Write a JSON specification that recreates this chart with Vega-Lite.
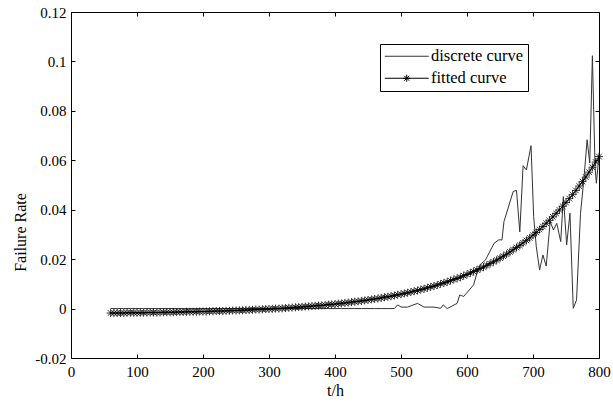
{
  "$schema": "https://vega.github.io/schema/vega-lite/v6.json",
  "width": 528,
  "height": 346,
  "autosize": {"type": "none"},
  "padding": {"left": 71, "top": 12, "right": 14, "bottom": 44},
  "background": "white",
  "config": {
    "view": {"stroke": "black", "strokeWidth": 1},
    "font": "Liberation Serif",
    "axis": {
      "domain": false,
      "grid": false,
      "tickColor": "black",
      "tickSize": -4,
      "tickWidth": 1,
      "labelColor": "black",
      "labelFont": "Liberation Serif",
      "labelFontSize": 15,
      "titleFont": "Liberation Serif",
      "titleFontSize": 16,
      "titleFontWeight": "normal",
      "titleColor": "black",
      "labelFlush": false,
      "labelOverlap": false
    }
  },
  "data": {
    "values": [
      {"t":60,"v":0,"series":"discrete curve"},{"t":70,"v":0,"series":"discrete curve"},{"t":80,"v":0,"series":"discrete curve"},{"t":90,"v":0,"series":"discrete curve"},{"t":100,"v":0,"series":"discrete curve"},{"t":110,"v":0,"series":"discrete curve"},{"t":120,"v":0,"series":"discrete curve"},{"t":130,"v":0,"series":"discrete curve"},{"t":140,"v":0,"series":"discrete curve"},{"t":150,"v":0,"series":"discrete curve"},{"t":160,"v":0,"series":"discrete curve"},{"t":170,"v":0,"series":"discrete curve"},{"t":180,"v":0,"series":"discrete curve"},{"t":190,"v":0,"series":"discrete curve"},{"t":200,"v":0,"series":"discrete curve"},{"t":210,"v":0,"series":"discrete curve"},{"t":220,"v":0,"series":"discrete curve"},{"t":230,"v":0,"series":"discrete curve"},{"t":240,"v":0,"series":"discrete curve"},{"t":250,"v":0,"series":"discrete curve"},{"t":260,"v":0,"series":"discrete curve"},{"t":270,"v":0,"series":"discrete curve"},{"t":280,"v":0,"series":"discrete curve"},{"t":290,"v":0,"series":"discrete curve"},{"t":300,"v":0,"series":"discrete curve"},{"t":310,"v":0,"series":"discrete curve"},{"t":320,"v":0,"series":"discrete curve"},{"t":330,"v":0,"series":"discrete curve"},{"t":340,"v":0,"series":"discrete curve"},{"t":350,"v":0,"series":"discrete curve"},{"t":360,"v":0,"series":"discrete curve"},{"t":370,"v":0,"series":"discrete curve"},{"t":380,"v":0,"series":"discrete curve"},{"t":390,"v":0,"series":"discrete curve"},{"t":400,"v":0,"series":"discrete curve"},{"t":410,"v":0,"series":"discrete curve"},{"t":420,"v":0,"series":"discrete curve"},{"t":430,"v":0,"series":"discrete curve"},{"t":440,"v":0,"series":"discrete curve"},{"t":450,"v":0,"series":"discrete curve"},{"t":460,"v":0,"series":"discrete curve"},{"t":470,"v":0,"series":"discrete curve"},{"t":480,"v":0,"series":"discrete curve"},{"t":490,"v":0,"series":"discrete curve"},
      {"t":495,"v":0.0015,"series":"discrete curve"},{"t":500,"v":0.0006,"series":"discrete curve"},{"t":510,"v":0.0006,"series":"discrete curve"},{"t":525,"v":0.0021,"series":"discrete curve"},{"t":535,"v":0.0006,"series":"discrete curve"},{"t":550,"v":0.0006,"series":"discrete curve"},{"t":560,"v":0.0001,"series":"discrete curve"},{"t":564,"v":0.0015,"series":"discrete curve"},{"t":570,"v":0,"series":"discrete curve"},{"t":585,"v":0.0021,"series":"discrete curve"},{"t":589,"v":0.0055,"series":"discrete curve"},{"t":595,"v":0.0049,"series":"discrete curve"},{"t":610,"v":0.0096,"series":"discrete curve"},{"t":615,"v":0.0143,"series":"discrete curve"},{"t":620,"v":0.0177,"series":"discrete curve"},{"t":628,"v":0.0197,"series":"discrete curve"},{"t":641,"v":0.0264,"series":"discrete curve"},{"t":648,"v":0.0278,"series":"discrete curve"},{"t":653,"v":0.0278,"series":"discrete curve"},{"t":656,"v":0.0352,"series":"discrete curve"},{"t":670,"v":0.0474,"series":"discrete curve"},{"t":675,"v":0.0478,"series":"discrete curve"},{"t":680,"v":0.031,"series":"discrete curve"},{"t":685,"v":0.0578,"series":"discrete curve"},{"t":690,"v":0.0561,"series":"discrete curve"},{"t":697,"v":0.0659,"series":"discrete curve"},{"t":701,"v":0.0372,"series":"discrete curve"},{"t":705,"v":0.025,"series":"discrete curve"},{"t":710,"v":0.0156,"series":"discrete curve"},{"t":715,"v":0.0217,"series":"discrete curve"},{"t":720,"v":0.0172,"series":"discrete curve"},{"t":726,"v":0.0352,"series":"discrete curve"},{"t":731,"v":0.0318,"series":"discrete curve"},{"t":736,"v":0.0345,"series":"discrete curve"},{"t":742,"v":0.0271,"series":"discrete curve"},{"t":746,"v":0.0453,"series":"discrete curve"},{"t":751,"v":0.0258,"series":"discrete curve"},{"t":756,"v":0.0386,"series":"discrete curve"},{"t":761,"v":0.0001,"series":"discrete curve"},{"t":766,"v":0.0035,"series":"discrete curve"},{"t":772,"v":0.0386,"series":"discrete curve"},{"t":777,"v":0.052,"series":"discrete curve"},{"t":782,"v":0.0683,"series":"discrete curve"},{"t":786,"v":0.0589,"series":"discrete curve"},{"t":790,"v":0.1023,"series":"discrete curve"},{"t":794,"v":0.0575,"series":"discrete curve"},{"t":796,"v":0.0507,"series":"discrete curve"},{"t":800,"v":0.0622,"series":"discrete curve"},
      {"t":60,"v":-0.0018,"series":"fitted curve"},{"t":65,"v":-0.0018,"series":"fitted curve"},{"t":70,"v":-0.0018,"series":"fitted curve"},{"t":75,"v":-0.0018,"series":"fitted curve"},{"t":80,"v":-0.0018,"series":"fitted curve"},{"t":85,"v":-0.0017,"series":"fitted curve"},{"t":90,"v":-0.0017,"series":"fitted curve"},{"t":95,"v":-0.0017,"series":"fitted curve"},{"t":100,"v":-0.0017,"series":"fitted curve"},{"t":105,"v":-0.0017,"series":"fitted curve"},{"t":110,"v":-0.0017,"series":"fitted curve"},{"t":115,"v":-0.0016,"series":"fitted curve"},{"t":120,"v":-0.0016,"series":"fitted curve"},{"t":125,"v":-0.0016,"series":"fitted curve"},{"t":130,"v":-0.0016,"series":"fitted curve"},{"t":135,"v":-0.0016,"series":"fitted curve"},{"t":140,"v":-0.0015,"series":"fitted curve"},{"t":145,"v":-0.0015,"series":"fitted curve"},{"t":150,"v":-0.0015,"series":"fitted curve"},{"t":155,"v":-0.0015,"series":"fitted curve"},{"t":160,"v":-0.0014,"series":"fitted curve"},{"t":165,"v":-0.0014,"series":"fitted curve"},{"t":170,"v":-0.0014,"series":"fitted curve"},{"t":175,"v":-0.0013,"series":"fitted curve"},{"t":180,"v":-0.0013,"series":"fitted curve"},{"t":185,"v":-0.0013,"series":"fitted curve"},{"t":190,"v":-0.0013,"series":"fitted curve"},{"t":195,"v":-0.0012,"series":"fitted curve"},{"t":200,"v":-0.0012,"series":"fitted curve"},{"t":205,"v":-0.0012,"series":"fitted curve"},{"t":210,"v":-0.0011,"series":"fitted curve"},{"t":215,"v":-0.0011,"series":"fitted curve"},{"t":220,"v":-0.001,"series":"fitted curve"},{"t":225,"v":-0.001,"series":"fitted curve"},{"t":230,"v":-0.001,"series":"fitted curve"},{"t":235,"v":-0.0009,"series":"fitted curve"},{"t":240,"v":-0.0009,"series":"fitted curve"},{"t":245,"v":-0.0008,"series":"fitted curve"},{"t":250,"v":-0.0008,"series":"fitted curve"},{"t":255,"v":-0.0007,"series":"fitted curve"},{"t":260,"v":-0.0007,"series":"fitted curve"},{"t":265,"v":-0.0006,"series":"fitted curve"},{"t":270,"v":-0.0006,"series":"fitted curve"},{"t":275,"v":-0.0005,"series":"fitted curve"},{"t":280,"v":-0.0004,"series":"fitted curve"},{"t":285,"v":-0.0004,"series":"fitted curve"},{"t":290,"v":-0.0003,"series":"fitted curve"},{"t":295,"v":-0.0002,"series":"fitted curve"},{"t":300,"v":-0.0002,"series":"fitted curve"},{"t":305,"v":-0.0001,"series":"fitted curve"},{"t":310,"v":0,"series":"fitted curve"},{"t":315,"v":0,"series":"fitted curve"},{"t":320,"v":0.0001,"series":"fitted curve"},{"t":325,"v":0.0002,"series":"fitted curve"},{"t":330,"v":0.0003,"series":"fitted curve"},{"t":335,"v":0.0004,"series":"fitted curve"},{"t":340,"v":0.0005,"series":"fitted curve"},{"t":345,"v":0.0006,"series":"fitted curve"},{"t":350,"v":0.0007,"series":"fitted curve"},{"t":355,"v":0.0008,"series":"fitted curve"},{"t":360,"v":0.0009,"series":"fitted curve"},{"t":365,"v":0.001,"series":"fitted curve"},{"t":370,"v":0.0011,"series":"fitted curve"},{"t":375,"v":0.0012,"series":"fitted curve"},{"t":380,"v":0.0013,"series":"fitted curve"},{"t":385,"v":0.0014,"series":"fitted curve"},{"t":390,"v":0.0016,"series":"fitted curve"},{"t":395,"v":0.0017,"series":"fitted curve"},{"t":400,"v":0.0018,"series":"fitted curve"},{"t":405,"v":0.002,"series":"fitted curve"},{"t":410,"v":0.0021,"series":"fitted curve"},{"t":415,"v":0.0023,"series":"fitted curve"},{"t":420,"v":0.0024,"series":"fitted curve"},{"t":425,"v":0.0026,"series":"fitted curve"},{"t":430,"v":0.0028,"series":"fitted curve"},{"t":435,"v":0.0029,"series":"fitted curve"},{"t":440,"v":0.0031,"series":"fitted curve"},{"t":445,"v":0.0033,"series":"fitted curve"},{"t":450,"v":0.0035,"series":"fitted curve"},{"t":455,"v":0.0037,"series":"fitted curve"},{"t":460,"v":0.0039,"series":"fitted curve"},{"t":465,"v":0.0041,"series":"fitted curve"},{"t":470,"v":0.0043,"series":"fitted curve"},{"t":475,"v":0.0046,"series":"fitted curve"},{"t":480,"v":0.0048,"series":"fitted curve"},{"t":485,"v":0.005,"series":"fitted curve"},{"t":490,"v":0.0053,"series":"fitted curve"},{"t":495,"v":0.0056,"series":"fitted curve"},{"t":500,"v":0.0058,"series":"fitted curve"},{"t":505,"v":0.0061,"series":"fitted curve"},{"t":510,"v":0.0064,"series":"fitted curve"},{"t":515,"v":0.0067,"series":"fitted curve"},{"t":520,"v":0.007,"series":"fitted curve"},{"t":525,"v":0.0073,"series":"fitted curve"},{"t":530,"v":0.0077,"series":"fitted curve"},{"t":535,"v":0.008,"series":"fitted curve"},{"t":540,"v":0.0084,"series":"fitted curve"},{"t":545,"v":0.0088,"series":"fitted curve"},{"t":550,"v":0.0091,"series":"fitted curve"},{"t":555,"v":0.0095,"series":"fitted curve"},{"t":560,"v":0.01,"series":"fitted curve"},{"t":565,"v":0.0104,"series":"fitted curve"},{"t":570,"v":0.0108,"series":"fitted curve"},{"t":575,"v":0.0113,"series":"fitted curve"},{"t":580,"v":0.0118,"series":"fitted curve"},{"t":585,"v":0.0122,"series":"fitted curve"},{"t":590,"v":0.0127,"series":"fitted curve"},{"t":595,"v":0.0133,"series":"fitted curve"},{"t":600,"v":0.0138,"series":"fitted curve"},{"t":605,"v":0.0144,"series":"fitted curve"},{"t":610,"v":0.015,"series":"fitted curve"},{"t":615,"v":0.0156,"series":"fitted curve"},{"t":620,"v":0.0162,"series":"fitted curve"},{"t":625,"v":0.0168,"series":"fitted curve"},{"t":630,"v":0.0175,"series":"fitted curve"},{"t":635,"v":0.0182,"series":"fitted curve"},{"t":640,"v":0.0189,"series":"fitted curve"},{"t":645,"v":0.0196,"series":"fitted curve"},{"t":650,"v":0.0204,"series":"fitted curve"},{"t":655,"v":0.0212,"series":"fitted curve"},{"t":660,"v":0.022,"series":"fitted curve"},{"t":665,"v":0.0229,"series":"fitted curve"},{"t":670,"v":0.0238,"series":"fitted curve"},{"t":675,"v":0.0247,"series":"fitted curve"},{"t":680,"v":0.0256,"series":"fitted curve"},{"t":685,"v":0.0266,"series":"fitted curve"},{"t":690,"v":0.0276,"series":"fitted curve"},{"t":695,"v":0.0286,"series":"fitted curve"},{"t":700,"v":0.0297,"series":"fitted curve"},{"t":705,"v":0.0308,"series":"fitted curve"},{"t":710,"v":0.032,"series":"fitted curve"},{"t":715,"v":0.0332,"series":"fitted curve"},{"t":720,"v":0.0345,"series":"fitted curve"},{"t":725,"v":0.0357,"series":"fitted curve"},{"t":730,"v":0.0371,"series":"fitted curve"},{"t":735,"v":0.0385,"series":"fitted curve"},{"t":740,"v":0.0399,"series":"fitted curve"},{"t":745,"v":0.0414,"series":"fitted curve"},{"t":750,"v":0.0429,"series":"fitted curve"},{"t":755,"v":0.0445,"series":"fitted curve"},{"t":760,"v":0.0461,"series":"fitted curve"},{"t":765,"v":0.0478,"series":"fitted curve"},{"t":770,"v":0.0496,"series":"fitted curve"},{"t":775,"v":0.0514,"series":"fitted curve"},{"t":780,"v":0.0532,"series":"fitted curve"},{"t":785,"v":0.0552,"series":"fitted curve"},{"t":790,"v":0.0572,"series":"fitted curve"},{"t":795,"v":0.0593,"series":"fitted curve"},{"t":800,"v":0.0615,"series":"fitted curve"}
    ]
  },
  "layer": [
    {
      "mark": {"type": "line", "strokeWidth": 1},
      "encoding": {
        "x": {
          "field": "t", "type": "quantitative",
          "scale": {"domain": [0, 800], "nice": false, "zero": false},
          "axis": {
            "orient": "bottom",
            "values": [0, 100, 200, 300, 400, 500, 600, 700, 800],
            "labelPadding": 10,
            "title": "t/h",
            "titleY": 37,
            "titleBaseline": "alphabetic"
          }
        },
        "y": {
          "field": "v", "type": "quantitative",
          "scale": {"domain": [-0.02, 0.12], "nice": false, "zero": false},
          "axis": {
            "orient": "left",
            "values": [-0.02, 0, 0.02, 0.04, 0.06, 0.08, 0.1, 0.12],
            "labelExpr": "datum.value < 0 ? '-' + format(-datum.value, '~g') : format(datum.value, '~g')",
            "labelPadding": 9,
            "title": "Failure Rate",
            "titleAngle": 270,
            "titleX": -46,
            "titleY": 220,
            "titleBaseline": "alphabetic"
          }
        },
        "color": {
          "field": "series", "type": "nominal",
          "scale": {"domain": ["discrete curve", "fitted curve"], "range": ["#333333", "#000000"]},
          "legend": {
            "orient": "none",
            "legendX": 309,
            "legendY": 32,
            "title": null,
            "strokeColor": "black",
            "fillColor": "white",
            "padding": 4,
            "cornerRadius": 0,
            "symbolType": "stroke",
            "symbolSize": 225,
            "symbolOffset": 14.5,
            "symbolStrokeWidth": 1,
            "labelFont": "Liberation Serif",
            "labelFontSize": 16.5,
            "labelColor": "black",
            "labelOffset": 16,
            "rowPadding": 5,
            "encode": {
              "symbols": {
                "update": {
                  "shape": {"signal": "datum.value === 'fitted curve' ? 'M-2.93,0H2.93M0,-0.47V0.47M-0.47,0H0.47M-0.33,-0.33L0.33,0.33M-0.33,0.33L0.33,-0.33' : 'M-2.93,0H2.93'"}
                }
              }
            }
          }
        }
      }
    },
    {
      "transform": [{"filter": "datum.series === 'fitted curve'"}],
      "mark": {
        "type": "point",
        "shape": "M0,-1V1M-1,0H1M-0.7,-0.7L0.7,0.7M-0.7,0.7L0.7,-0.7",
        "filled": false,
        "size": 64,
        "strokeWidth": 0.8,
        "color": "black",
        "opacity": 1
      },
      "encoding": {
        "x": {
          "field": "t", "type": "quantitative",
          "axis": {"orient": "top", "values": [0, 100, 200, 300, 400, 500, 600, 700, 800], "labels": false, "title": null}
        },
        "y": {
          "field": "v", "type": "quantitative",
          "axis": {"orient": "right", "values": [-0.02, 0, 0.02, 0.04, 0.06, 0.08, 0.1, 0.12], "labels": false, "title": null}
        }
      }
    }
  ]
}
